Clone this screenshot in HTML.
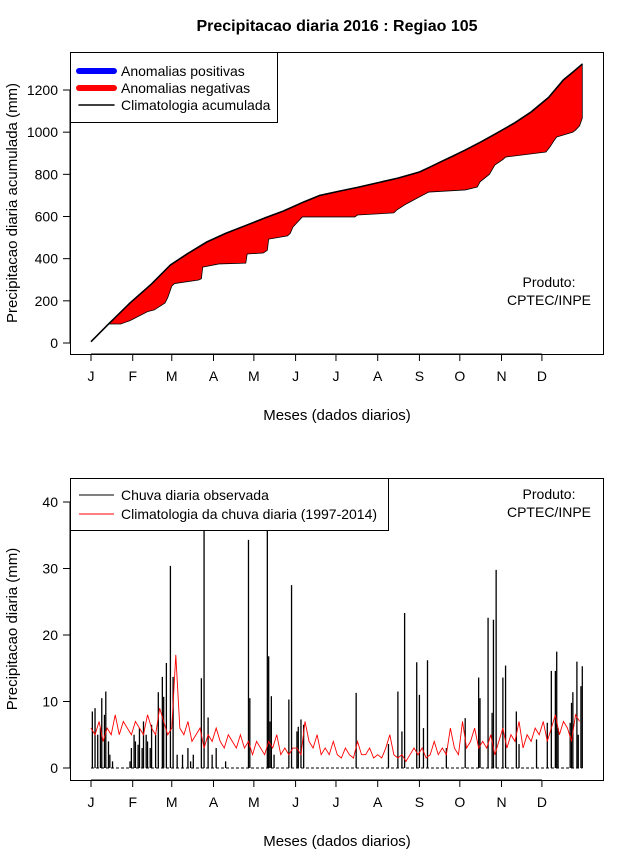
<!DOCTYPE html>
<html><head><meta charset="utf-8"><style>
body{margin:0;background:#fff}
svg{display:block;font-family:"Liberation Sans",sans-serif}
</style></head><body>
<svg id="c" width="640" height="850" viewBox="0 0 640 850"></svg>
<script>
// ---- data ----
const months = ["J","F","M","A","M","J","J","A","S","O","N","D"];
const monthStartDays = [0,31,60,91,121,152,182,213,244,274,305,335];
const cumTicks = [0,200,400,600,800,1000,1200];
const dailyTicks = [0,10,20,30,40];
// accumulated climatology (day, mm)
const climCumDays = [0,13,29,45,59,72,86,100,116,130,143,158,170,185,198,213,228,244,252,260,268,278,290,303,315,327,340,351,358,365];
const climCumVals = [6,90,190,280,370,425,479,520,560,595,626,669,700,721,738,760,782,811,835,860,884,915,955,1001,1045,1096,1165,1248,1285,1323];
// accumulated observed (day, mm)
const obsCumDays = [0,13,22,29,42,47,55,57,60,62,80,82,83,95,115,116,128,131,132,146,148,150,157,185,196,198,225,227,233,244,251,278,287,289,296,300,306,308,338,341,344,346,358,360,363,365,365];
const obsCumVals = [6,90,90,106,149,157,190,215,270,282,299,305,360,375,379,422,427,440,493,508,520,550,598,598,598,607,617,630,655,693,716,726,740,764,800,844,870,882,906,930,960,977,1000,1010,1030,1067,1080];
// daily observed rain (day, mm)
const rainDays = [1,3,5,7,8,10,11,13,14,16,29,30,32,33,35,36,38,39,41,42,44,45,48,50,53,54,56,59,61,64,68,72,74,76,82,84,87,90,93,100,117,118,131,132,133,134,136,147,149,153,154,156,158,197,221,228,231,233,242,244,247,250,264,278,288,289,295,298,299,301,306,308,316,318,331,339,342,345,346,347,356,357,358,361,362,364,365];
const rainVals = [8.5,9,5,6,10.5,8,11.5,4,2,1,1,3,5,4,3.5,6,3,7,5,4,3,6.5,5,11.4,13.7,10.7,15.8,30.4,13.7,2,2,3,1,2,13.5,40,7.6,2,3,1,34.3,10.5,40,16.8,7,10.8,2,10.3,27.5,5.5,6.2,7.3,6.5,11.3,3.6,11.5,5.5,23.3,15.9,11,6,16.2,3,7.5,13.6,10.5,22.6,8.3,22.3,29.8,13.6,15.4,8.5,3.6,4.3,6.8,14.6,14.6,17.5,6,6.8,9.8,11.4,16,5,12.3,15.3];
// daily climatology, one value every 3 days
const climDaily = [6,5,7,4,6,5,8,5,7,6,5, 7,6,5,8,6,5,9,7,5,6, 17,6,5,7,4,5,6,3,5,4,
 6,4,3,5,4,3,5,3,4,2, 4,3,2,4,3,5,2,3,2,3, 3,2,7,4,3,5,2,3,2,4, 2,1.5,3,2,1.5,4,2,2,3,1.5,
 2,1.5,3,5,2,1.5,2,1,2,3, 2,3,1.5,2,4,2,3,2,6,3, 2,7,3,4,6,3,4,3,5,2, 4,6,3,5,4,7,3,5,4,6,
 5,7,4,6,8,5,7,6,4,8,7];
const climStep = 3;

// ---- helpers ----
const svg = document.getElementById('c');
const NS = "http://www.w3.org/2000/svg";
function el(tag, attrs, parent){const e=document.createElementNS(NS,tag);for(const k in attrs)e.setAttribute(k,attrs[k]);(parent||svg).appendChild(e);return e;}
function txt(s,x,y,attrs,parent){const t=el('text',Object.assign({x:x,y:y,'font-size':14,fill:'#000'},attrs||{}),parent);t.textContent=s;return t;}
const xDay = d => 91 + d*1.346;
const yCum = v => 343 - v*253/1200;
const yDaily = v => 768 - v*6.65;

// title
const title = txt("Precipitacao diaria 2016 : Regiao 105",337,31,{'text-anchor':'middle','font-weight':'bold','font-size':16});



function xAxis(yBox, name){
  const g = el('g',{});
  
  
  el('line',{x1:xDay(monthStartDays[0]),x2:xDay(monthStartDays[11]),y1:yBox,y2:yBox,stroke:'#000'},g);
  months.forEach((m,i)=>{
    const x=xDay(monthStartDays[i]);
    el('line',{x1:x,x2:x,y1:yBox,y2:yBox+7,stroke:'#000'},g);
    const t=txt(m,x,yBox+27,{'text-anchor':'middle'},g);
    
    
  });
}
function yAxis(ticks, yf, name){
  const g = el('g',{});
  
  
  el('line',{x1:70,x2:70,y1:yf(ticks[0]),y2:yf(ticks[ticks.length-1]),stroke:'#000'},g);
  ticks.forEach(v=>{
    const y=yf(v);
    el('line',{x1:63,x2:70,y1:y,y2:y,stroke:'#000'},g);
    const t=txt(String(v),58,y+5,{'text-anchor':'end'},g);
    
    
  });
}

// ---- top panel ----
const topPanel = el('g',{});


let upper = climCumDays.map((d,i)=>xDay(d)+','+yCum(climCumVals[i]));
let lower = obsCumDays.map((d,i)=>xDay(d)+','+yCum(obsCumVals[i])).reverse();
const area = el('polygon',{points:upper.concat(lower).join(' '),fill:'#ff0000',stroke:'#000','stroke-width':0.8},topPanel);


const climLine = el('polyline',{points:upper.join(' '),fill:'none',stroke:'#000','stroke-width':1.6},topPanel);


el('rect',{x:70.5,y:52.5,width:533,height:302,fill:'none',stroke:'#000'},topPanel);
xAxis(354,'top-x-axis');
yAxis(cumTicks,yCum,'top-y-axis');
const yl1 = txt("Precipitacao diaria acumulada (mm)",0,0,{'text-anchor':'middle','font-size':15,transform:'translate(17,203) rotate(-90)'});


const xl1 = txt("Meses (dados diarios)",337,420,{'text-anchor':'middle','font-size':15});


const p1 = txt("Produto:",549,287,{'text-anchor':'middle'});


const p2 = txt("CPTEC/INPE",549,305,{'text-anchor':'middle'});


// legend top
const lg1 = el('g',{});


el('rect',{x:70.5,y:52.5,width:207,height:70,fill:'#fff',stroke:'#000'},lg1);
[["Anomalias positivas","#0000ff",6],["Anomalias negativas","#ff0000",6],["Climatologia acumulada","#000",1.5]].forEach((e,i)=>{
  const y=71+i*17;
  const ent = el('g',{},lg1);
  
  
  el('line',{x1:79,x2:114,y1:y,y2:y,stroke:e[1],'stroke-width':e[2],'stroke-linecap':'round'},ent);
  txt(e[0],121,y+5,{},ent);
});

// ---- bottom panel ----
const bot = el('g',{});


const clip = el('clipPath',{id:'cp'}); el('rect',{x:71,y:479,width:532,height:301},clip);
const plot = el('g',{'clip-path':'url(#cp)'},bot);
el('line',{x1:xDay(0),x2:xDay(365),y1:768,y2:768,stroke:'#000','stroke-dasharray':'3,2','stroke-width':1},plot);
rainDays.forEach((d,i)=>{
  const b = el('line',{x1:xDay(d),x2:xDay(d),y1:768,y2:yDaily(rainVals[i]),stroke:'#000','stroke-width':1.3},plot);
  
  
});
const cl = el('polyline',{points:climDaily.map((v,i)=>xDay(i*climStep)+','+yDaily(v)).join(' '),fill:'none',stroke:'#ff0000','stroke-width':0.9},plot);


el('rect',{x:70.5,y:478.5,width:533,height:302,fill:'none',stroke:'#000'},bot);
xAxis(780,'bottom-x-axis');
yAxis(dailyTicks,yDaily,'bottom-y-axis');
const yl2 = txt("Precipitacao diaria (mm)",0,0,{'text-anchor':'middle','font-size':15,transform:'translate(17,629) rotate(-90)'});


const xl2 = txt("Meses (dados diarios)",337,846,{'text-anchor':'middle','font-size':15});


const p3 = txt("Produto:",549,499,{'text-anchor':'middle'});


const p4 = txt("CPTEC/INPE",549,517,{'text-anchor':'middle'});


const lg2 = el('g',{});


el('rect',{x:70.5,y:478.5,width:318,height:52,fill:'#fff',stroke:'#000'},lg2);
[["Chuva diaria observada","#000"],["Climatologia da chuva diaria (1997-2014)","#ff0000"]].forEach((e,i)=>{
  const y=495+i*19;
  const ent = el('g',{},lg2);
  
  
  el('line',{x1:79,x2:114,y1:y,y2:y,stroke:e[1],'stroke-width':1},ent);
  txt(e[0],121,y+5,{},ent);
});
</script>
</body></html>
